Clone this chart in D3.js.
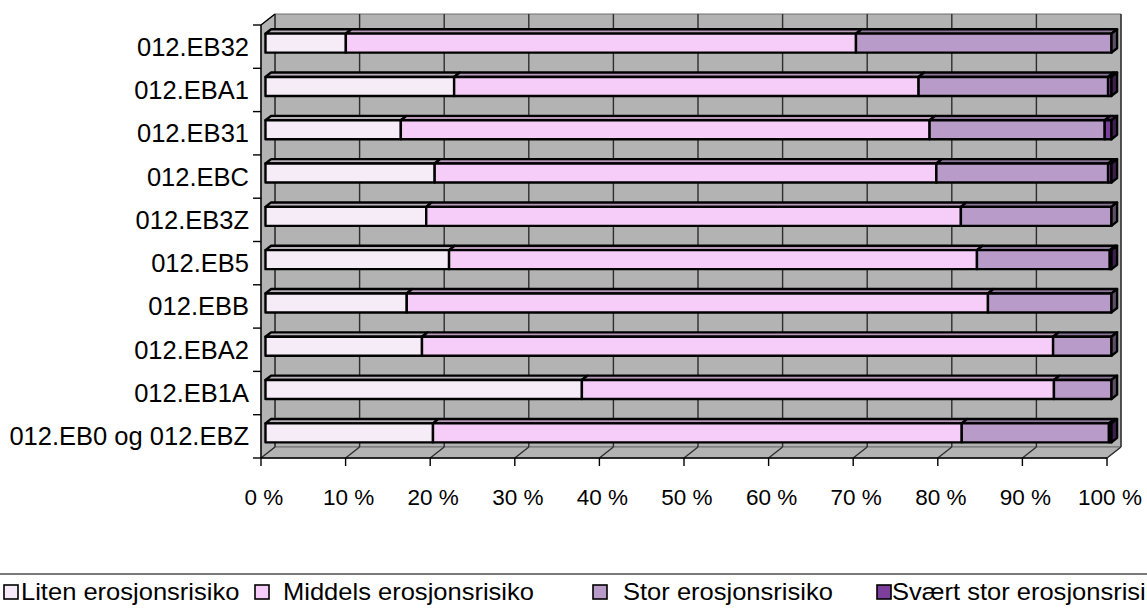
<!DOCTYPE html>
<html>
<head>
<meta charset="utf-8">
<script src="https://cdn.jsdelivr.net/npm/d3@7/dist/d3.min.js"></script>
<style>
  html, body { margin: 0; padding: 0; background: #ffffff; overflow: hidden; }
  svg { display: block; font-family: "Liberation Sans", Arial, sans-serif; }
</style>
</head>
<body>
<svg id="chart" width="1147" height="610"></svg>
<script>
// Categories, top to bottom
const categories = ["012.EB32", "012.EBA1", "012.EB31", "012.EBC", "012.EB3Z",
                    "012.EB5", "012.EBB", "012.EBA2", "012.EB1A", "012.EB0 og 012.EBZ"];

// Share of area (%) per erosion risk class
const liten       = [ 9.5, 22.3, 16.0, 20.0, 19.0, 21.7, 16.7, 18.5, 37.4, 19.8];
const middels     = [60.3, 54.9, 62.5, 59.3, 63.2, 62.4, 68.7, 74.6, 55.8, 62.5];
const stor        = [30.2, 22.4, 20.7, 20.3, 17.8, 15.7, 14.6,  6.9,  6.8, 17.4];
const svaertStor  = [ 0.0,  0.4,  0.8,  0.4,  0.0,  0.2,  0.0,  0.0,  0.0,  0.3];

const seriesNames = ["Liten erosjonsrisiko", "Middels erosjonsrisiko",
                     "Stor erosjonsrisiko", "Svært stor erosjonsrisiko"];
const seriesColors = ["#f6ecf8", "#f6ccf8", "#b89bc9", "#7c3f9c"];
const tickValues = [0, 10, 20, 30, 40, 50, 60, 70, 80, 90, 100];
const tickLabels = tickValues.map(v => v + " %");

const svg = d3.select("#chart");

// Plot geometry (front plane) and depth offset of the back wall
const x = d3.scaleLinear().domain([0, 100]).range([261, 1107]);
const y = d3.scaleBand().domain(categories).range([25, 458]).padding(0);
const DX = 14, DY = -11;
const yTop = y.range()[0], yBot = y.range()[1];

const wallFill = "#b3b3b3", wallStroke = "#6e6e6e", gridColor = "#2e2e2e";

// Back wall
svg.append("polygon")
  .attr("points", [[x(0) + DX, yTop + DY], [x(100) + DX, yTop + DY], [x(100) + DX, yBot + DY], [x(0) + DX, yBot + DY]].join(" "))
  .attr("fill", wallFill).attr("stroke", wallStroke).attr("stroke-width", 1);
// Left side wall
svg.append("polygon")
  .attr("points", [[x(0), yTop], [x(0) + DX, yTop + DY], [x(0) + DX, yBot + DY], [x(0), yBot]].join(" "))
  .attr("fill", wallFill).attr("stroke", wallStroke).attr("stroke-width", 1);
// Floor
svg.append("polygon")
  .attr("points", [[x(0), yBot], [x(100), yBot], [x(100) + DX, yBot + DY], [x(0) + DX, yBot + DY]].join(" "))
  .attr("fill", wallFill).attr("stroke", wallStroke).attr("stroke-width", 1);

// Gridlines on back wall and floor
const grid = svg.append("g").attr("stroke", gridColor).attr("stroke-width", 1.4);
tickValues.forEach(v => {
  grid.append("line").attr("x1", x(v) + DX).attr("x2", x(v) + DX)
    .attr("y1", yTop + DY).attr("y2", yBot + DY);
  grid.append("line").attr("x1", x(v)).attr("x2", x(v) + DX)
    .attr("y1", yBot).attr("y2", yBot + DY);
});

// Axes lines and ticks
const axis = svg.append("g").attr("stroke", "#000").attr("stroke-width", 1.4);
axis.append("line").attr("x1", x(0)).attr("x2", x(0)).attr("y1", yTop).attr("y2", yBot);
axis.append("line").attr("x1", x(0)).attr("x2", x(0) + DX).attr("y1", yTop).attr("y2", yTop + DY);
axis.append("line").attr("x1", x(0)).attr("x2", x(100)).attr("y1", yBot).attr("y2", yBot);
tickValues.forEach(v => {
  axis.append("line").attr("x1", x(v)).attr("x2", x(v)).attr("y1", yBot).attr("y2", yBot + 8);
});
const boundaries = categories.map(c => y(c)).concat([yBot]);
boundaries.forEach(b => {
  axis.append("line").attr("x1", x(0) - 8).attr("x2", x(0)).attr("y1", b).attr("y2", b);
});

// Tick labels
svg.append("g").selectAll("text").data(tickValues).join("text")
  .attr("x", v => x(v) + 3).attr("y", 505)
  .attr("text-anchor", "middle").attr("font-size", 22.5).attr("fill", "#000")
  .text((v, i) => tickLabels[i]);

// Category labels
svg.append("g").selectAll("text").data(categories).join("text")
  .attr("x", 249).attr("y", c => y(c) + y.bandwidth() / 2 + 9)
  .attr("text-anchor", "end").attr("font-size", 25.5).attr("fill", "#000")
  .text(c => c);

// 3D stacked bars
const seriesData = [liten, middels, stor, svaertStor];
const T0 = 0.32, T1 = 0.72;            // bar depth position as fraction of wall depth
const ox = DX * T0, oy = DY * T0;
const bdx = DX * (T1 - T0), bdy = DY * (T1 - T0);
const barH = 19;
const shade = (c, k) => { const r = d3.rgb(c); return d3.rgb(r.r * k, r.g * k, r.b * k).formatHex(); };

const bars = svg.append("g").attr("stroke", "#000").attr("stroke-width", 2.4).attr("stroke-linejoin", "round");
categories.forEach((cat, i) => {
  const yc = y(cat) + y.bandwidth() / 2 + oy;
  const y0 = yc - barH / 2, y1 = yc + barH / 2;
  let acc = 0;
  const segs = seriesData.map((s, k) => { const a = acc; acc += s[i]; return { k, a, b: acc, v: s[i] }; })
    .filter(s => s.v > 0);
  segs.forEach((s, j) => {
    const xa = x(s.a) + ox, xb = x(s.b) + ox;
    const col = seriesColors[s.k];
    // top face
    bars.append("polygon")
      .attr("points", [[xa, y0], [xb, y0], [xb + bdx, y0 + bdy], [xa + bdx, y0 + bdy]].join(" "))
      .attr("fill", shade(col, 0.75));
    // front face
    bars.append("rect").attr("x", xa).attr("y", y0).attr("width", xb - xa).attr("height", barH)
      .attr("fill", col);
    // end face on the last segment
    if (j === segs.length - 1) {
      bars.append("polygon")
        .attr("points", [[xb, y0], [xb + bdx, y0 + bdy], [xb + bdx, y1 + bdy], [xb, y1]].join(" "))
        .attr("fill", shade(col, 0.5));
    }
  });
});

// Legend (runs past the right edge of the page)
const legend = svg.append("g");
legend.append("rect").attr("x", -5).attr("y", 574).attr("width", 1160).attr("height", 60)
  .attr("fill", "#fff").attr("stroke", "#333").attr("stroke-width", 1.3);
const legendMarkX = [4, 255, 593, 877];
const legendTextX = [21, 283, 623, 892];
const stretch = 1.11;
seriesNames.forEach((name, k) => {
  legend.append("rect").attr("x", legendMarkX[k]).attr("y", 585).attr("width", 14).attr("height", 14)
    .attr("fill", seriesColors[k]).attr("stroke", "#000").attr("stroke-width", 1.6);
  legend.append("text")
    .attr("transform", `translate(${legendTextX[k]},600) scale(${stretch},1)`)
    .attr("font-size", 23).attr("fill", "#000").text(name);
});
</script>
</body>
</html>
